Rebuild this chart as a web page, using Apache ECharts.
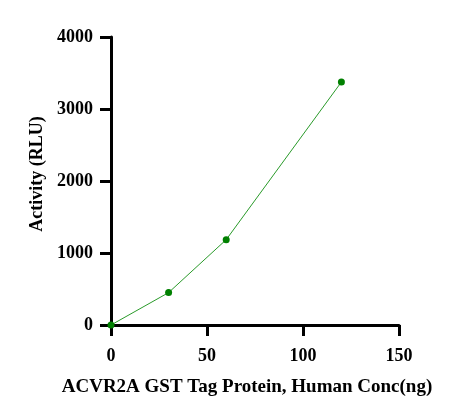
<!DOCTYPE html>
<html>
<head>
<meta charset="utf-8">
<script src="https://cdn.jsdelivr.net/npm/echarts@6/dist/echarts.min.js"></script>
<style>
html,body{margin:0;padding:0;background:#fff;}
#main{width:473px;height:418px;}
</style>
</head>
<body>
<div id="main"></div>
<script>
// concentration (ng) and activity (RLU)
var concValues = [0, 30, 60, 120];
var activityValues = [0, 450, 1185, 3375];

var xTicks = [0, 50, 100, 150];
var yTicks = [0, 1000, 2000, 3000, 4000];

var points = [];
for (var i = 0; i < concValues.length; i++) {
	points.push([concValues[i], activityValues[i]]);
}

var fontFam = '"Liberation Serif", "Times New Roman", serif';
var myChart = echarts.init(document.getElementById('main'));
var option = {
	animation: false,
	grid: {
		left: 111,
		top: 37,
		right: 74,
		bottom: 93
	},
	xAxis: {
		type: 'value',
		min: xTicks[0],
		max: xTicks[xTicks.length - 1],
		interval: 50,
		name: 'ACVR2A GST Tag Protein, Human Conc(ng)',
		nameLocation: 'middle',
		nameGap: 53,
		nameTextStyle: {
			fontFamily: fontFam,
			fontWeight: 'bold',
			fontSize: 19,
			color: '#000',
			padding: [0, 16, 0, 0]
		},
		axisLine: {onZero: false, lineStyle: {color: '#000', width: 3}},
		axisTick: {show: true, length: 11, lineStyle: {color: '#000', width: 3}},
		axisLabel: {
			margin: 22,
			fontFamily: fontFam,
			fontWeight: 'bold',
			fontSize: 18,
			color: '#000',
			formatter: function (v) { return String(v); }
		},
		splitLine: {show: false}
	},
	yAxis: {
		type: 'value',
		min: yTicks[0],
		max: yTicks[yTicks.length - 1],
		interval: 1000,
		name: 'Activity (RLU)',
		nameLocation: 'middle',
		nameGap: 65,
		nameTextStyle: {
			fontFamily: fontFam,
			fontWeight: 'bold',
			fontSize: 18,
			color: '#000',
			padding: [0, 0, 0, 14]
		},
		axisLine: {onZero: false, lineStyle: {color: '#000', width: 3}},
		axisTick: {show: true, length: 11, lineStyle: {color: '#000', width: 3}},
		axisLabel: {
			margin: 18,
			fontFamily: fontFam,
			fontWeight: 'bold',
			fontSize: 18,
			color: '#000',
			formatter: function (v) { return String(v); }
		},
		splitLine: {show: false}
	},
	series: [
		{
			type: 'line',
			data: points,
			symbol: 'circle',
			symbolSize: 7,
			itemStyle: {color: '#008000'},
			lineStyle: {color: '#2a9a2a', width: 1},
			z: 3
		}
	]
};
myChart.setOption(option, true);
</script>
</body>
</html>
